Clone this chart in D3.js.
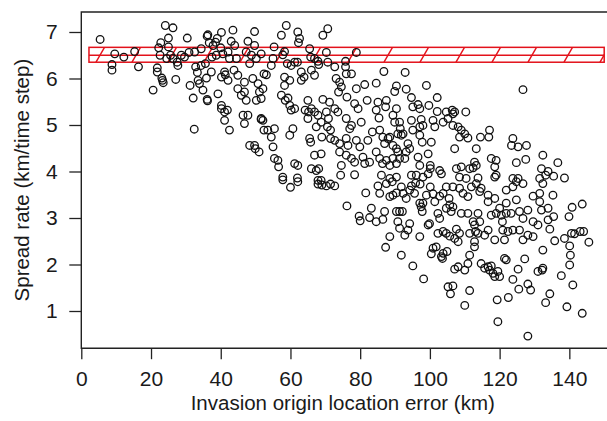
<!DOCTYPE html>
<html>
<head>
<meta charset="utf-8">
<script src="https://cdn.jsdelivr.net/npm/d3@7"></script>
<style>
  body { margin: 0; background: #fff; }
  svg { display: block; }
  text { font-family: "Liberation Sans", Arial, Helvetica, sans-serif; fill: #1a1a1a; }
</style>
</head>
<body>
<svg id="chart" width="607" height="421"></svg>
<script>
// ticks
const xTicks = [0, 20, 40, 60, 80, 100, 120, 140]
const yTicks = [1, 2, 3, 4, 5, 6, 7]

// observed spread rate band (low, mean, high) and its extent along x
const bandLow = 6.35, bandMean = 6.5, bandHigh = 6.67
const bandFrom = 2.2, bandTo = 150

// [origin location error (km), spread rate (km/time step)]
const obs = [
  [5.4,6.84],[9.6,6.53],[8.8,6.30],[8.8,6.18],[12.2,6.46],[15.3,6.58],[16.4,6.25],[20.6,5.75],[21.8,6.23],[21.8,6.14],
  [22.2,6.66],[22.8,6.77],[22.6,6.50],[24.1,7.14],[25.0,6.87],[26.3,7.09],[23.1,6.01],[23.5,5.91],[23.3,5.96],[25.0,6.68],
  [25.6,6.50],[26.3,6.43],[24.5,6.43],[27.1,5.98],[27.7,6.28],[27.5,6.35],[30.4,6.87],[28.7,6.50],[29.6,6.46],[30.9,6.56],
  [31.2,5.85],[32.1,5.58],[32.4,4.91],[33.3,6.13],[33.5,5.96],[33.9,5.89],[32.8,6.25],[34.4,6.28],[35.6,6.32],[32.5,6.57],
  [34.4,6.64],[36.3,6.94],[36.1,6.91],[36.7,6.77],[37.5,6.46],[37.8,6.71],[38.5,6.78],[39.0,6.86],[40.2,6.99],[40.0,6.66],
  [35.9,6.01],[34.9,5.75],[36.1,5.55],[36.2,5.52],[37.3,6.14],[41.1,6.14],[40.2,6.03],[41.3,6.08],[42.1,5.96],[39.2,5.67],
  [40.2,5.35],[41.1,5.28],[41.9,5.32],[41.1,5.10],[42.5,4.89],[43.5,7.04],[43.0,6.80],[44.0,6.71],[44.5,6.43],[44.9,6.07],
  [43.8,6.18],[42.1,6.57],[42.5,6.43],[44.9,5.78],[45.9,5.64],[46.8,5.92],[46.8,5.71],[47.3,5.53],[46.4,5.21],[46.8,5.03],
  [47.8,5.21],[47.8,6.80],[47.3,6.57],[48.3,6.32],[48.8,6.50],[49.7,7.01],[49.7,6.71],[50.2,6.43],[49.2,6.00],[50.7,5.89],
  [51.1,5.71],[51.6,5.57],[52.1,5.78],[50.2,5.53],[51.6,5.14],[52.1,5.10],[51.6,5.12],[48.3,4.56],[49.7,4.56],[49.9,4.49],
  [51.0,4.42],[51.6,6.53],[52.4,6.10],[53.1,6.08],[54.5,6.28],[55.0,6.43],[55.3,6.68],[52.4,4.89],[53.5,4.89],[55.4,4.92],
  [54.5,4.74],[55.0,4.53],[55.4,4.28],[56.4,4.24],[56.6,4.10],[57.8,3.88],[62.0,3.86],[57.4,6.93],[58.8,7.14],[58.3,6.58],
  [57.8,6.51],[58.3,6.03],[59.8,5.96],[58.3,5.85],[57.4,5.64],[58.5,5.53],[59.3,5.58],[59.8,5.42],[60.2,5.32],[61.2,5.35],
  [60.7,4.92],[59.8,4.78],[61.2,4.17],[62.1,4.13],[59.1,6.32],[60.2,6.28],[61.2,6.35],[62.0,6.35],[62.1,7.00],[62.6,6.86],
  [62.3,6.77],[63.1,6.14],[63.1,5.96],[63.9,6.03],[65.0,5.53],[64.2,5.32],[65.2,5.28],[66.0,5.35],[65.0,5.14],[65.5,6.64],
  [65.8,6.46],[66.9,6.43],[67.9,6.37],[68.1,6.30],[66.0,6.18],[66.9,6.07],[66.9,5.28],[67.9,5.21],[68.8,5.06],[67.4,4.96],
  [65.5,4.71],[65.8,4.63],[66.9,4.35],[68.8,4.38],[66.0,4.06],[67.4,4.02],[68.1,4.06],[67.9,3.81],[68.8,3.81],[69.3,6.93],
  [70.7,7.07],[70.3,6.56],[70.7,6.35],[69.3,5.55],[71.2,5.49],[70.3,5.28],[70.9,5.14],[70.6,4.96],[69.0,4.74],[71.5,4.89],
  [71.5,4.71],[72.7,4.67],[74.1,4.60],[74.1,4.42],[74.6,4.13],[74.4,3.92],[72.7,6.25],[73.1,6.00],[74.1,5.92],[73.8,5.71],
  [74.6,5.82],[72.7,5.35],[73.6,5.28],[38.7,6.50],[40.6,6.53],[40.2,5.42],
  [57.8,3.82],[60.0,3.66],[62.1,3.78],[67.9,3.73],[69.0,3.71],[70.3,3.69],[72.7,3.69],[71.5,3.73],
  [78.9,6.56],[75.8,6.37],[75.8,6.25],[76.0,6.10],[77.5,6.10],[86.8,6.15],[92.9,6.13],[78.9,5.78],[81.3,5.87],[84.6,5.90],
  [90.4,5.84],[89.9,5.72],[93.2,5.77],[99.0,5.85],[102.1,5.59],[94.7,5.59],[126.7,5.76],[76.2,5.60],[78.4,5.46],[79.4,5.35],
  [82.0,5.53],[85.1,5.49],[84.6,5.32],[87.5,5.53],[87.3,5.39],[90.4,5.35],[95.1,5.39],[96.6,5.44],[97.1,5.35],[99.7,5.42],
  [102.1,5.29],[104.7,5.28],[106.4,5.32],[107.1,5.28],[110.3,5.28],[76.0,5.14],[77.0,4.92],[77.5,4.99],[80.3,5.06],[85.4,5.15],
  [85.6,4.89],[88.5,4.74],[89.4,5.21],[89.9,5.06],[91.3,5.06],[91.5,4.92],[90.8,4.81],[91.8,4.78],[92.3,4.81],[94.7,5.10],
  [95.1,4.89],[97.5,5.12],[98.0,4.99],[97.1,4.96],[100.9,5.10],[101.4,4.96],[103.8,5.06],[105.2,5.14],[106.6,5.24],[106.6,4.99],
  [108.1,4.96],[109.0,4.89],[108.5,4.74],[110.0,4.81],[110.9,4.72],[114.5,4.74],[116.9,4.74],[117.1,4.89],[76.0,4.71],[76.5,4.56],
  [78.9,4.67],[79.9,4.53],[82.2,4.67],[83.5,4.85],[86.5,4.74],[87.0,4.60],[88.0,4.71],[89.4,4.56],[90.4,4.49],[90.8,4.42],
  [91.3,4.28],[93.7,4.60],[94.2,4.49],[97.1,4.78],[97.8,4.63],[100.4,4.63],[107.1,4.49],[113.3,4.49],[123.8,4.71],[123.4,4.56],
  [125.3,4.53],[127.7,4.56],[132.4,4.35],[136.7,4.19],[127.5,4.26],[124.8,4.19],[76.0,4.35],[77.5,4.28],[78.4,4.20],[80.8,4.31],
  [81.3,4.17],[82.7,4.20],[84.6,4.42],[85.6,4.28],[86.4,4.17],[87.5,4.24],[89.4,4.28],[88.5,4.13],[90.4,4.17],[92.8,4.28],
  [93.2,4.42],[96.6,4.31],[97.1,4.13],[99.5,4.38],[100.1,4.13],[100.1,4.06],[102.8,4.02],[103.3,3.95],[107.6,4.06],[109.0,4.10],
  [111.4,4.06],[112.4,4.08],[113.3,4.13],[112.8,4.20],[117.6,4.28],[119.0,4.24],[118.6,4.10],[119.0,3.92],[78.4,3.93],[86.1,3.92],
  [88.5,3.85],[90.4,3.88],[94.7,3.92],[96.1,3.92],[98.0,3.88],[99.5,3.95],[132.0,4.06],[133.9,4.00],[133.2,3.92],[135.5,3.90],
  [138.6,3.86],[131.5,3.85],[108.5,3.88],[110.4,3.85],[113.8,3.86],[118.6,3.88],[123.8,3.85],[125.3,3.85],
  [76.2,3.26],[81.6,3.54],[79.7,3.04],[80.0,2.94],[82.7,3.01],[83.2,3.21],[84.6,2.92],[86.5,2.97],[87.0,3.14],[85.1,3.69],
  [85.6,3.53],[87.5,3.74],[88.5,3.46],[89.4,3.49],[90.4,3.54],[91.8,3.67],[92.3,3.53],[93.2,3.42],[94.2,3.60],[94.7,3.69],
  [95.6,3.53],[95.9,3.75],[97.2,3.73],[89.2,3.78],[90.4,3.14],[91.3,3.14],[92.1,3.14],[90.8,2.92],[91.3,2.78],[92.8,2.63],
  [94.2,2.88],[93.7,2.74],[87.3,2.37],[88.5,2.60],[91.8,2.20],[95.1,1.97],[98.2,1.69],[97.1,3.32],[97.5,3.24],[98.0,3.32],
  [97.8,3.14],[97.1,2.60],[99.5,2.85],[99.9,2.88],[99.0,3.49],[100.1,3.67],[100.9,3.52],[101.4,3.35],[102.8,3.47],[103.8,3.53],
  [105.5,3.42],[105.7,3.28],[106.6,3.24],[102.3,3.10],[102.8,2.99],[104.7,3.21],[106.1,3.14],[100.9,2.35],[101.8,2.38],[103.3,2.17],
  [103.8,2.24],[103.6,2.13],[104.9,2.28],[100.4,2.23],[102.3,2.67],[103.8,2.71],[104.7,2.67],[105.7,2.61],[107.1,2.56],[108.1,2.49],
  [107.6,2.76],[108.5,2.67],[104.7,3.67],[106.6,3.67],[108.5,3.64],[109.5,3.53],[110.9,3.46],[111.9,3.67],[113.3,3.74],[114.3,3.57],
  [114.7,3.64],[109.0,3.10],[110.9,3.10],[112.4,2.92],[112.8,2.85],[113.8,3.10],[114.3,2.92],[111.4,2.67],[113.1,2.71],[112.8,2.49],
  [113.8,2.67],[115.7,2.63],[116.7,2.74],[111.4,2.20],[112.8,2.38],[110.9,2.02],[110.0,1.88],[108.1,1.95],[107.1,1.90],[114.7,2.02],
  [115.7,1.92],[116.7,1.95],[117.6,1.97],[118.1,1.81],[118.6,1.74],[119.5,1.85],[120.0,1.74],[117.1,1.88],[116.7,3.49],[116.7,3.35],
  [118.6,3.42],[120.0,3.21],[120.5,3.06],[120.8,2.92],[121.9,3.32],[121.9,3.10],[117.6,3.06],[119.0,3.10],[123.3,3.10],[124.8,3.39],
  [125.7,3.14],[126.7,2.99],[128.1,3.17],[120.9,2.74],[122.4,2.71],[123.8,2.74],[125.7,2.74],[126.7,2.53],[128.1,2.63],[129.6,2.60],
  [121.4,2.53],[118.6,2.53],[121.4,2.13],[121.9,2.10],[125.3,1.90],[127.2,2.12],[123.8,1.68],[121.9,3.60],[123.8,3.67],[124.8,3.78],
  [126.7,3.74],[129.6,3.47],[131.5,3.53],[131.5,3.35],[132.0,3.17],[133.9,3.21],[135.3,3.49],[135.5,3.03],[133.9,2.96],[134.4,2.76],
  [131.0,2.85],[129.6,2.92],[132.4,3.74],[131.0,1.85],[132.4,1.92],[132.2,1.88],[132.4,2.31],[137.7,1.76],[141.0,1.56],[105.2,1.52],
  [106.6,1.54],[105.9,1.37],[111.4,1.44],[110.0,1.12],[119.3,1.24],[122.5,1.29],[119.5,0.77],[125.5,1.47],[128.1,1.58],[128.9,1.45],
  [128.1,0.46],[133.2,1.18],[134.4,1.37],[139.3,1.09],[143.7,0.95],[135.8,2.51],[138.6,2.56],[140.1,2.40],[140.3,2.20],[140.1,1.99],
  [140.6,2.67],[141.5,2.66],[143.1,2.71],[144.1,2.71],[145.6,2.48],[139.9,3.03],[140.8,3.23],[143.7,3.30]
]

const width = 607, height = 421
const svg = d3.select('#chart')

const x = d3.scaleLinear().domain([0, 150]).range([81.3, 604.2])
const y = d3.scaleLinear().domain([0.2, 7.43]).range([348.2, 12])

const plotLeft = x(0), plotTop = y(7.43), plotBottom = y(0.2)
const red = '#e3121b'

// observed band with hatching
var clip = svg.append('clipPath').attr('id', 'bandClip')
clip.append('rect')
  .attr('x', x(bandFrom)).attr('y', y(bandHigh))
  .attr('width', x(bandTo) - x(bandFrom))
  .attr('height', y(bandLow) - y(bandHigh))

var band = svg.append('g')
var hatchTop = y(bandHigh), hatchBottom = y(bandLow)
var hatchG = band.append('g').attr('clip-path', 'url(#bandClip)')
for (var k = -14; k <= 6; k++) {
  var xb = 420 + 36 * k
  hatchG.append('line')
    .attr('x1', xb).attr('y1', hatchBottom)
    .attr('x2', xb + 8.5).attr('y2', hatchTop)
    .attr('stroke', red).attr('stroke-width', 1.4)
}
band.append('rect')
  .attr('x', x(bandFrom)).attr('y', y(bandHigh))
  .attr('width', x(bandTo) - x(bandFrom))
  .attr('height', y(bandLow) - y(bandHigh))
  .attr('fill', 'none').attr('stroke', red).attr('stroke-width', 1.5)
band.append('line')
  .attr('x1', x(bandFrom)).attr('x2', x(bandTo))
  .attr('y1', y(bandMean)).attr('y2', y(bandMean))
  .attr('stroke', red).attr('stroke-width', 1.5)

// points
svg.append('g').selectAll('circle')
  .data(obs)
  .enter().append('circle')
  .attr('cx', d => x(d[0]))
  .attr('cy', d => y(d[1]))
  .attr('r', 3.8)
  .attr('fill', 'none')
  .attr('stroke', '#111')
  .attr('stroke-width', 1.3)

// box (right side runs off the picture)
svg.append('path')
  .attr('d', `M${width + 2},${plotTop}H${plotLeft}V${plotBottom}H${width + 2}`)
  .attr('fill', 'none').attr('stroke', '#222').attr('stroke-width', 1.4)

// axes
var xAxis = svg.append('g')
  .attr('transform', `translate(0,${plotBottom})`)
  .call(d3.axisBottom(x).tickValues(xTicks).tickSize(11).tickSizeOuter(0).tickPadding(12))
xAxis.select('.domain').remove()

var yAxis = svg.append('g')
  .attr('transform', `translate(${plotLeft},0)`)
  .call(d3.axisLeft(y).tickValues(yTicks).tickSize(12).tickSizeOuter(0).tickPadding(11.5))
yAxis.select('.domain').remove()

svg.selectAll('.tick line').attr('stroke', '#222').attr('stroke-width', 1.3)
svg.selectAll('.tick text')
  .attr('font-size', 21)
  .style('font-family', '"Liberation Sans", Arial, sans-serif')
  .attr('fill', '#1a1a1a')

// axis titles
svg.append('text')
  .attr('x', (plotLeft + x(150)) / 2).attr('y', 410)
  .attr('text-anchor', 'middle').attr('font-size', 20.5)
  .text('Invasion origin location error (km)')

svg.append('text')
  .attr('transform', `translate(28.5,${(plotTop + plotBottom) / 2}) rotate(-90)`)
  .attr('text-anchor', 'middle').attr('font-size', 20.5)
  .text('Spread rate (km/time step)')
</script>
</body>
</html>
